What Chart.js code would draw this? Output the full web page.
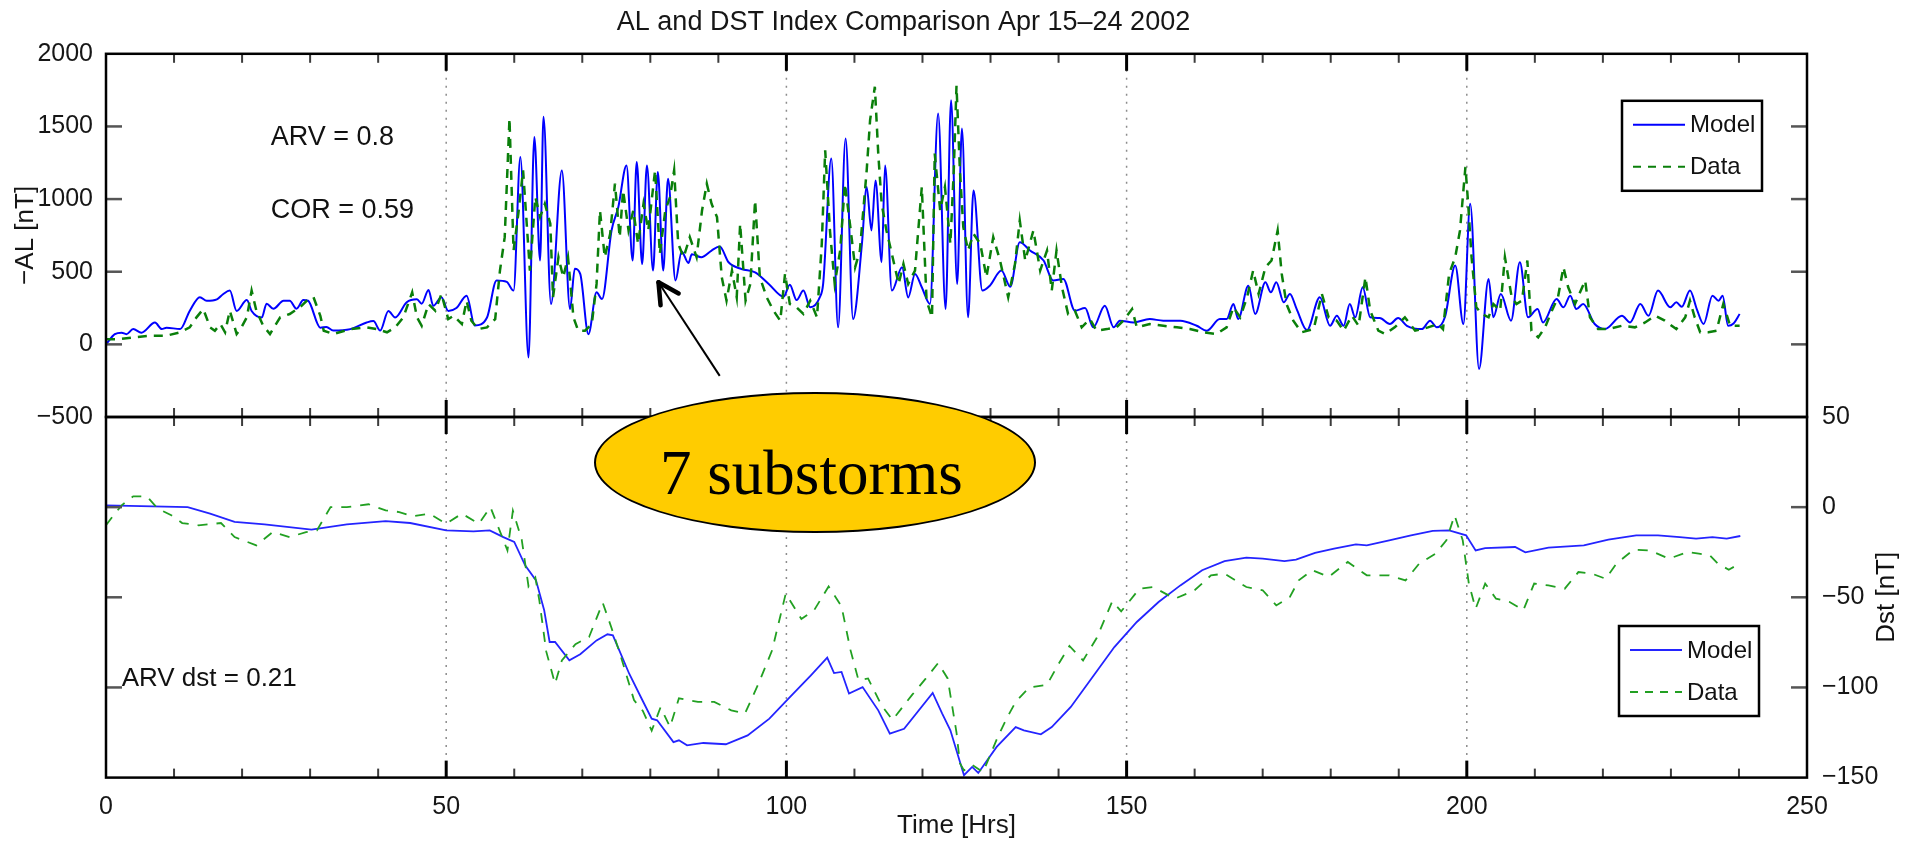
<!DOCTYPE html>
<html>
<head>
<meta charset="utf-8">
<title>AL and DST Index Comparison Apr 15–24 2002</title>
<script src="https://cdn.jsdelivr.net/npm/chart.js@4.4.0/dist/chart.umd.min.js"></script>
<style>
    html, body { margin: 0; padding: 0; background: #fff; }
    #wrap { position: relative; width: 1917px; height: 843px; overflow: hidden; }
    #wrap canvas { position: absolute; left: 0; top: 0; }
    #callout {
        position: absolute; left: 594px; top: 392px; width: 438px; height: 137px;
        background: #ffcc00; border: 2px solid #000; border-radius: 50%; z-index: 3;
    }
    #callout span {
        position: absolute; left: 0; right: 7px; top: 48px; text-align: center;
        font-family: 'Liberation Serif', 'Times New Roman', serif; font-size: 63px;
        line-height: 1; color: #000; white-space: nowrap;
    }
</style>
</head>
<body>
<div id="wrap">
    <canvas id="al-chart" width="1917" height="843"></canvas>
    <canvas id="dst-chart" width="1917" height="843"></canvas>
    <div id="callout"><span>7 substorms</span></div>
</div>
<script>
// ─── Axes ──────────────────────────────────────────────────
const hourTicks = [0, 10, 20, 30, 40, 50, 60, 70, 80, 90, 100, 110, 120, 130, 140, 150,
    160, 170, 180, 190, 200, 210, 220, 230, 240, 250];
const hourLabels = [0, 50, 100, 150, 200, 250];
const hourGrid = [50, 100, 150, 200];
const alTicks = [-500, 0, 500, 1000, 1500, 2000];
const dstTicks = [-150, -100, -50, 0, 50];

// ─── -AL [nT] ──────────────────────────────────────────────
const alModelHours = [
    0, 1.3, 2.3, 3, 4, 5.2, 7.2, 8.2, 8.9, 10.9,
    12.3, 13.8, 14.8, 16.3, 17.2, 18.2, 19.2, 20.7, 21.4, 22.9,
    23.6, 24.6, 26.1, 27, 28, 29, 29.7, 31.5, 32.4, 33.4,
    35.9, 38.3, 39.3, 40.3, 41.5, 42.5, 44.2, 45.7, 46.4, 47.4,
    48.1, 49.3, 50.3, 51.5, 53, 54.2, 56, 57.4, 58.9, 59.9,
    60.9, 62.1, 62.95, 63.8, 64.3, 65.4, 67, 68.2, 68.9, 69.7,
    70.9, 72.1, 72.9, 74.3, 75.3, 76.5, 77.4, 78, 78.8, 79.5,
    80.4, 81.1, 81.9, 82.6, 83.7, 84.6, 85.6, 86.1, 87.5, 89,
    90.2, 91.5, 93.4, 95.4, 97.4, 99.6, 100.5, 101.5, 102.5, 103.5,
    104.9, 105.4, 106.6, 107.6, 108.7, 109.8, 111.1, 111.8, 112.5, 113.1,
    114, 114.5, 115.5, 117, 117.9, 118.9, 119.9, 121.1, 122.3, 123.4,
    124.2, 125.1, 125.8, 126.7, 127.5, 128.8, 129.9, 131.6, 132.9, 134.3,
    135.8, 137.8, 139.2, 140.7, 142.4, 143.9, 145.1, 146.8, 148.1, 149,
    151, 153.4, 155.4, 157.9, 160.3, 161.8, 163.7, 164.7, 165.7, 166.4,
    167.9, 168.9, 170.4, 171.2, 172, 173.1, 174, 175, 176.5, 178.4,
    179.9, 180.9, 181.9, 182.8, 183.6, 184.7, 185.8, 187.2, 188.7, 189.9,
    191.2, 193.4, 194.6, 195.6, 196.8, 198.3, 199.5, 200.5, 201.8, 203.2,
    203.9, 205, 206.5, 207.8, 209, 210.4, 211.2, 213.2, 214.2, 215.2,
    216.1, 217.1, 218.8, 220.3, 222.8, 224, 225.5, 226.7, 228.1, 229.9,
    230.8, 231.6, 232.8, 233.8, 234.8, 236.1, 237, 237.6, 238.4, 239.2,
    240.1
];
const alModelValues = [
    0, 70, 80, 70, 105, 80, 150, 105, 115, 105,
    230, 325, 300, 310, 345, 370, 230, 305, 230, 185,
    280, 245, 300, 300, 245, 305, 300, 115, 120, 95,
    105, 150, 160, 95, 230, 185, 290, 310, 280, 375,
    265, 325, 230, 250, 335, 130, 185, 440, 430, 370,
    1290, -90, 1428, 577, 1566, 278, 1197, 243, 520, 485,
    70, 358, 312, 784, 945, 1232, 577, 1255, 553, 1232,
    508, 1186, 508, 1140, 439, 640, 560, 620, 600, 646,
    673, 565, 519, 496, 416, 328, 411, 305, 370, 255,
    323, 416, 1279, 117, 1417, 174, 692, 1083, 784, 1128,
    565, 1232, 370, 531, 323, 485, 393, 278, 1589, 243,
    1681, 416, 1486, 186, 1059, 370, 404, 508, 397, 703,
    646, 577, 439, 450, 232, 250, 117, 266, 117, 163,
    151, 174, 163, 163, 128, 94, 174, 174, 278, 174,
    404, 209, 427, 358, 427, 289, 347, 243, 98, 324,
    128, 197, 128, 278, 186, 393, 186, 181, 140, 181,
    128, 105, 163, 117, 190, 542, 140, 968, -170, 450,
    186, 347, 163, 565, 186, 243, 151, 312, 255, 335,
    243, 278, 140, 105, 197, 151, 278, 197, 370, 255,
    289, 259, 370, 243, 140, 335, 300, 335, 128, 144,
    209
];
const alDataHours = [
    0, 2, 4, 6.5, 8.9, 10.9, 12.3, 13.3, 14.3, 15.3,
    16, 16.8, 17.5, 18.2, 19.2, 19.9, 20.7, 21.4, 22.1, 23.1,
    24.1, 25.6, 27, 28.5, 29.5, 30.5, 31.5, 32, 33.4, 35.9,
    38.3, 39.8, 41.3, 42.5, 43.7, 45, 45.7, 46.4, 47.4, 48.4,
    49.3, 50.3, 51.1, 52.3, 53, 53.7, 54.7, 56, 57.2, 57.9,
    58.6, 59.3, 59.9, 60.6, 61.3, 62.3, 63.1, 63.8, 64.5, 65.3,
    65.7, 66.5, 67.2, 67.9, 68.7, 69.4, 70.4, 71.4, 72.1, 72.6,
    73.3, 74.1, 74.8, 75.5, 76, 76.8, 77.5, 78.2, 79, 79.7,
    80.7, 81.4, 82.2, 82.9, 83.5, 84.1, 84.9, 85.8, 86.8, 87.6,
    88.3, 89, 89.8, 90.5, 91.2, 92, 92.7, 93.2, 94, 94.7,
    95.4, 96.1, 97.1, 98.1, 99.1, 99.8, 100.5, 101.5, 102.5, 103.5,
    104.5, 105.2, 105.7, 106.4, 107.1, 107.9, 108.6, 109.4, 110.1, 110.8,
    111.8, 112.3, 113, 113.5, 114, 114.7, 115.5, 116.5, 117.2, 117.9,
    118.9, 119.9, 120.6, 121.4, 121.8, 122.6, 123.3, 124.1, 124.6, 125,
    125.5, 126, 126.7, 127.5, 128.5, 129.4, 130.4, 131.4, 132.6, 133.6,
    134.3, 135.1, 136.3, 137.3, 138.3, 139, 139.7, 140.5, 141.4, 142.4,
    143.4, 144.6, 145.6, 147.1, 148.5, 149.5, 150.8, 151.5, 153.4, 155.4,
    157.4, 159.3, 161.3, 163.2, 164.7, 165.7, 166.7, 167.7, 168.6, 169.4,
    170.4, 171.3, 172.2, 172.8, 173.5, 174.5, 175.7, 177.5, 178.7, 179.7,
    180.9, 181.9, 183.1, 184.1, 185.1, 185.8, 187, 188, 189.4, 190.9,
    192.4, 194.3, 195.8, 196.5, 197.4, 198.3, 199, 199.5, 199.8, 200.2,
    200.7, 201.4, 202.2, 203.2, 203.9, 204.9, 205.6, 206.6, 207.3, 208.1,
    208.9, 209.5, 210.5, 211.5, 212.5, 213.4, 214.2, 214.9, 215.9, 217.4,
    218.1, 219.3, 220.8, 222.8, 224.7, 226.2, 227.7, 229.1, 230.8, 232.1,
    232.8, 233.5, 234.3, 235.5, 236.7, 237.7, 238.7, 240.1
];
const alDataValues = [
    36, 36, 48, 60, 60, 83, 117, 186, 243, 117,
    94, 140, 83, 232, 71, 117, 186, 370, 232, 128,
    71, 186, 209, 255, 300, 324, 197, 94, 71, 105,
    117, 105, 83, 117, 186, 358, 186, 128, 278, 232,
    347, 174, 197, 140, 300, 163, 105, 117, 174, 508,
    738, 1555, 646, 899, 1198, 508, 1014, 876, 968, 830,
    324, 600, 462, 600, 186, 94, 94, 140, 416, 922,
    600, 761, 1106, 738, 1060, 784, 922, 692, 968, 784,
    1198, 623, 922, 1014, 1198, 692, 600, 738, 600, 922,
    1106, 968, 876, 462, 301, 508, 324, 830, 301, 416,
    991, 462, 324, 232, 163, 485, 278, 255, 209, 301,
    186, 692, 1336, 784, 416, 646, 1106, 807, 531, 646,
    1198, 1543, 1773, 1313, 968, 784, 623, 416, 554, 416,
    508, 1083, 301, 186, 1313, 922, 1083, 692, 1198, 1780,
    1198, 807, 646, 761, 692, 462, 738, 577, 324, 554,
    853, 577, 784, 508, 646, 370, 646, 393, 209, 232,
    117, 174, 94, 105, 117, 163, 243, 117, 140, 128,
    117, 105, 83, 71, 117, 255, 186, 324, 508, 347,
    531, 577, 784, 485, 278, 163, 83, 105, 347, 186,
    163, 94, 197, 128, 462, 232, 94, 71, 117, 186,
    94, 117, 140, 105, 485, 600, 784, 1060, 1221, 968,
    600, 255, 209, 186, 278, 232, 600, 324, 278, 301,
    577, 94, 48, 117, 232, 324, 531, 393, 278, 439,
    186, 105, 105, 128, 117, 151, 197, 163, 105, 186,
    301, 186, 83, 83, 94, 278, 128, 128
];

// ─── Dst [nT] ──────────────────────────────────────────────
const dstModelHours = [
    0, 12, 15.3, 18.9, 23.3, 30.2, 35.4, 41.1, 44.7, 50,
    54, 56.4, 58.4, 60, 61.6, 63.2, 64.4, 65.2, 66, 68.1,
    69.7, 72.1, 73.7, 74.5, 76.9, 78.6, 80.2, 81, 83.4, 84.2,
    85.4, 87.8, 91.1, 94.3, 97.5, 100.3, 103.6, 106, 107, 108.1,
    109.2, 111.2, 113.5, 115.2, 117.3, 121.5, 122.9, 124.1, 126.1, 127.3,
    128.2, 130.9, 133.7, 134.9, 137.4, 139, 141.8, 145, 148.2, 151.5,
    154.7, 157.9, 161.1, 164.4, 167.6, 170, 173.2, 174.9, 177.7, 180.5,
    183.7, 185.3, 188.6, 191.8, 195, 197.4, 199.9, 201.3, 202.7, 207.1,
    208.6, 212, 217.2, 220.8, 224.9, 228.1, 231.3, 233.7, 236.1, 238.2,
    240.2
];
const dstModelValues = [
    1, 0, -3.6, -8.2, -9.5, -12.5, -9.5, -7.7, -8.8, -12.9,
    -13.4, -12.9, -16.6, -19.3, -32.3, -40.6, -57.2, -74.8, -74.8, -85,
    -81.6, -73.9, -70.5, -71.1, -92.4, -105.3, -117.3, -118.2, -130.3, -129.3,
    -132.1, -130.8, -131.5, -126.6, -117.3, -106.2, -93.3, -83.5, -92, -91.4,
    -103.4, -99.8, -112.7, -125.6, -122.9, -103, -114.5, -123.8, -148.7, -144.1,
    -147.4, -133, -122, -123.8, -126, -122, -110.8, -94.2, -77.6, -63.7,
    -52.6, -43.4, -35, -29.9, -28, -28.6, -29.9, -29.1, -25.4, -23,
    -20.6, -21.2, -18.4, -15.6, -13.2, -12.9, -15.6, -24, -22.7, -22.1,
    -25.1, -22.5, -21.2, -18, -15.6, -15.6, -16.6, -17.5, -16.6, -17.5,
    -16
];
const dstDataHours = [
    0, 1, 2.3, 4, 6, 7.6, 9.6, 11.2, 13.6, 16.9,
    18.9, 22.1, 24.5, 27, 29.4, 31, 33, 35.4, 38.6, 41.1,
    43.1, 45.1, 47.5, 50, 52.3, 54.8, 56.5, 59, 59.8, 61.1,
    62.1, 63.1, 63.7, 64.7, 66, 67, 69, 71, 73, 74.3,
    75.6, 77.6, 78.9, 80.2, 81.5, 82.9, 84.2, 85.5, 87, 89.4,
    91.9, 93.9, 95.9, 97.9, 99.9, 102.2, 104.1, 106.2, 108.1, 109.4,
    110.6, 112, 114, 115.6, 118.5, 120.5, 122.3, 123.7, 125, 125.5,
    126.1, 127.3, 128.9, 131, 132.4, 133.7, 135.7, 138.3, 140, 141.6,
    143.6, 145.6, 147.9, 149.2, 151.9, 153.9, 157.1, 160, 162.4, 164.4,
    167.6, 170, 172, 174, 175.3, 177.3, 179.7, 182.5, 185.3, 188.6,
    191, 193, 195.4, 197, 198.2, 199.4, 200.3, 201.3, 202.7, 204.3,
    206.3, 208.3, 209.9, 212, 214.4, 216.4, 218.4, 220.4, 222, 224.5,
    226.9, 229.7, 232.5, 234.1, 235.7, 236.9, 238.5, 239.4
];
const dstDataValues = [
    -10, -5, 1, 6, 6, -0.8, -4.5, -8.8, -10.1, -8.8,
    -16.6, -21.2, -13.8, -16.6, -13.8, -12.9, 0, 0, 1.6, -1.8,
    -2.7, -5.1, -3.6, -9.2, -3.6, -9.2, 0, -24, -2, -18,
    -44, -39, -52, -80, -98, -85, -76, -72, -53, -67,
    -82, -107, -113, -124, -111, -122, -106, -107, -108, -108,
    -112.7, -114.5, -97.9, -79.4, -48, -62, -57, -44, -55, -79,
    -96, -95, -110, -118, -104, -95, -86.5, -95, -125, -142,
    -146, -143, -147, -128, -117, -108, -100, -98.5, -87, -77,
    -85, -72.6, -52.2, -57.8, -45.2, -44.3, -50.8, -46.1, -37.8, -36.9,
    -44.3, -46.1, -54.5, -49.8, -40.6, -35, -38.7, -30.4, -37.8, -37.8,
    -40.6, -31.3, -25.8, -18.4, -4.5, -18.4, -42.4, -56.3, -42.4, -50.8,
    -52.6, -57.2, -42.4, -43.4, -45.2, -36, -36.9, -39.7, -31.3, -23.6,
    -24, -28.6, -24.9, -25.8, -26.7, -31.3, -34.7, -32.8
];

// ─── Notes ─────────────────────────────────────────────────
const alNotes = [
    { text: 'ARV = 0.8', x: 24.2, y: 1370 },
    { text: 'COR = 0.59', x: 24.2, y: 872 }
];
const dstNotes = [
    { text: 'ARV dst = 0.21', x: 2.3, y: -99.4 }
];
const substormArrow = { from: [90.2, -217], to: [81.2, 427] };

// ─── Helpers ───────────────────────────────────────────────
const FONT = "'Liberation Sans', Arial, Helvetica, sans-serif";
Chart.defaults.font.family = FONT;
Chart.defaults.color = '#161616';

const pairs = (xs, ys) => xs.map((x, i) => ({ x, y: ys[i] }));
const minus = v => (v < 0 ? '\u2212' + Math.abs(v) : String(v));

function seg(ctx, x1, y1, x2, y2) {
    ctx.beginPath();
    ctx.moveTo(x1, y1);
    ctx.lineTo(x2, y2);
    ctx.stroke();
}

// box, inward ticks and dotted grid (matlab style)
const framePlugin = {
    id: 'frame',
    beforeDatasetsDraw(chart) {
        const { ctx, chartArea: a, scales: { x } } = chart;
        ctx.save();
        ctx.strokeStyle = '#8c8c8c';
        ctx.lineWidth = 1.5;
        ctx.setLineDash([2, 6]);
        hourGrid.forEach(h => {
            const px = x.getPixelForValue(h);
            seg(ctx, px, a.top, px, a.bottom);
        });
        ctx.restore();
    },
    afterDatasetsDraw(chart, args, opts) {
        const { ctx, chartArea: a, scales: { x, y } } = chart;
        ctx.save();
        hourTicks.forEach(h => {
            if (h <= 0 || h >= 250) return;
            const px = x.getPixelForValue(h);
            const major = hourLabels.includes(h);
            ctx.strokeStyle = major ? '#000' : '#3c3c3c';
            ctx.lineWidth = major ? 3 : 2;
            const len = major ? 17 : 9;
            seg(ctx, px, a.top, px, a.top + len);
            seg(ctx, px, a.bottom, px, a.bottom - len);
        });
        ctx.strokeStyle = '#555';
        ctx.lineWidth = 2.5;
        opts.yTicks.forEach(v => {
            const py = y.getPixelForValue(v);
            if (py <= a.top + 1 || py >= a.bottom - 1) return;
            seg(ctx, a.left, py, a.left + 16, py);
            seg(ctx, a.right, py, a.right - 16, py);
        });
        ctx.strokeStyle = '#000';
        ctx.lineWidth = 2.5;
        ctx.strokeRect(a.left, a.top, a.right - a.left, a.bottom - a.top);
        ctx.restore();
    }
};

// boxed legend like the original figure
const boxLegendPlugin = {
    id: 'boxLegend',
    afterDraw(chart, args, opts) {
        const { ctx, chartArea: a } = chart;
        const left = a.right - opts.right - opts.width;
        const top = a.top + opts.top;
        ctx.save();
        ctx.fillStyle = '#fff';
        ctx.fillRect(left, top, opts.width, opts.height);
        ctx.strokeStyle = '#000';
        ctx.lineWidth = 2.5;
        ctx.strokeRect(left, top, opts.width, opts.height);
        chart.data.datasets.forEach((ds, i) => {
            const ly = top + 24 + i * 42;
            ctx.strokeStyle = ds.borderColor;
            ctx.lineWidth = 2;
            ctx.setLineDash(ds.borderDash ? [8, 7] : []);
            seg(ctx, left + 11, ly, left + 63, ly);
            ctx.setLineDash([]);
            ctx.fillStyle = '#111';
            ctx.font = '24px ' + FONT;
            ctx.textBaseline = 'middle';
            ctx.textAlign = 'left';
            ctx.fillText(ds.label, left + 68, ly + 1);
        });
        ctx.restore();
    }
};

// text notes, arrow and rotated right-hand title
const notesPlugin = {
    id: 'notes',
    afterDraw(chart, args, opts) {
        const { ctx, chartArea: a, scales: { x, y } } = chart;
        ctx.save();
        ctx.fillStyle = '#111';
        ctx.textAlign = 'left';
        ctx.textBaseline = 'alphabetic';
        ctx.font = opts.size + 'px ' + FONT;
        (opts.items || []).forEach(n => {
            ctx.fillText(n.text, x.getPixelForValue(n.x), y.getPixelForValue(n.y));
        });
        if (opts.arrow) {
            const x1 = x.getPixelForValue(opts.arrow.from[0]);
            const y1 = y.getPixelForValue(opts.arrow.from[1]);
            const x2 = x.getPixelForValue(opts.arrow.to[0]);
            const y2 = y.getPixelForValue(opts.arrow.to[1]);
            ctx.strokeStyle = '#000';
            ctx.lineWidth = 2;
            seg(ctx, x1, y1, x2, y2);
            const ang = Math.atan2(y1 - y2, x1 - x2);
            const spread = 28 * Math.PI / 180;
            ctx.lineWidth = 4.5;
            ctx.lineCap = 'round';
            [-spread, spread].forEach(d => {
                seg(ctx, x2, y2, x2 + 23 * Math.cos(ang + d), y2 + 23 * Math.sin(ang + d));
            });
        }
        if (opts.sideTitle) {
            ctx.translate(a.right + 80, (a.top + a.bottom) / 2);
            ctx.rotate(-Math.PI / 2);
            ctx.textAlign = 'center';
            ctx.textBaseline = 'middle';
            ctx.font = '26px ' + FONT;
            ctx.fillText(opts.sideTitle, 0, 0);
        }
        ctx.restore();
    }
};

const tickFont = { size: 25 };

// ─── Top panel: -AL ────────────────────────────────────────
new Chart(document.getElementById('al-chart'), {
    type: 'line',
    data: {
        datasets: [
            {
                label: 'Model',
                data: pairs(alModelHours, alModelValues),
                borderColor: '#0000ff',
                borderWidth: 2,
                cubicInterpolationMode: 'monotone',
                pointRadius: 0,
                order: 2
            },
            {
                label: 'Data',
                data: pairs(alDataHours, alDataValues),
                borderColor: '#0a7f0a',
                borderWidth: 2.5,
                borderDash: [9, 7],
                tension: 0,
                pointRadius: 0,
                order: 1
            }
        ]
    },
    options: {
        responsive: false,
        animation: false,
        events: [],
        layout: { padding: { top: 0, left: 0, right: 110, bottom: 426 } },
        plugins: {
            legend: { display: false },
            tooltip: { enabled: false },
            title: {
                display: true,
                text: 'AL and DST Index Comparison Apr 15\u201324 2002',
                font: { size: 27, weight: 'normal' },
                color: '#161616',
                padding: { top: 6, bottom: 15.4 }
            },
            frame: { yTicks: alTicks },
            boxLegend: { right: 45, top: 47, width: 140, height: 90 },
            notes: { items: alNotes, size: 27, arrow: substormArrow }
        },
        scales: {
            x: { type: 'linear', min: 0, max: 250, display: false },
            y: {
                type: 'linear',
                min: -500,
                max: 2000,
                afterBuildTicks: s => { s.ticks = alTicks.map(v => ({ value: v })); },
                afterFit: s => { s.width = 106; },
                grid: { display: false },
                border: { display: false },
                ticks: { font: tickFont, padding: 5, callback: minus },
                title: { display: true, text: '\u2212AL [nT]', font: { size: 26 }, padding: { top: 10 } }
            }
        }
    },
    plugins: [framePlugin, boxLegendPlugin, notesPlugin]
});

// ─── Bottom panel: Dst ─────────────────────────────────────
new Chart(document.getElementById('dst-chart'), {
    type: 'line',
    data: {
        datasets: [
            {
                label: 'Model',
                data: pairs(dstModelHours, dstModelValues),
                borderColor: '#2424ff',
                borderWidth: 1.8,
                tension: 0,
                pointRadius: 0,
                order: 2
            },
            {
                label: 'Data',
                data: pairs(dstDataHours, dstDataValues),
                borderColor: '#22a022',
                borderWidth: 1.8,
                borderDash: [10, 9],
                tension: 0,
                pointRadius: 0,
                order: 1
            }
        ]
    },
    options: {
        responsive: false,
        animation: false,
        events: [],
        layout: { padding: { top: 417, left: 106, right: 0, bottom: 0 } },
        plugins: {
            legend: { display: false },
            tooltip: { enabled: false },
            frame: { yTicks: dstTicks },
            boxLegend: { right: 48, top: 209, width: 140, height: 90 },
            notes: { items: dstNotes, size: 26, sideTitle: 'Dst [nT]' }
        },
        scales: {
            x: {
                type: 'linear',
                min: 0,
                max: 250,
                position: 'bottom',
                afterBuildTicks: s => { s.ticks = hourTicks.map(v => ({ value: v })); },
                afterFit: s => { s.height = 65.4; },
                grid: { display: false },
                border: { display: false },
                ticks: {
                    font: tickFont,
                    padding: 7,
                    maxRotation: 0,
                    autoSkip: false,
                    callback: v => (hourLabels.includes(v) ? String(v) : '')
                },
                title: { display: true, text: 'Time [Hrs]', font: { size: 26 }, padding: { top: 0, bottom: 2 } }
            },
            y: {
                type: 'linear',
                position: 'right',
                min: -150,
                max: 50,
                afterBuildTicks: s => { s.ticks = dstTicks.map(v => ({ value: v })); },
                afterFit: s => { s.width = 110; },
                grid: { display: false },
                border: { display: false },
                ticks: { font: tickFont, padding: 7, callback: minus }
            }
        }
    },
    plugins: [framePlugin, boxLegendPlugin, notesPlugin]
});
</script>
</body>
</html>
